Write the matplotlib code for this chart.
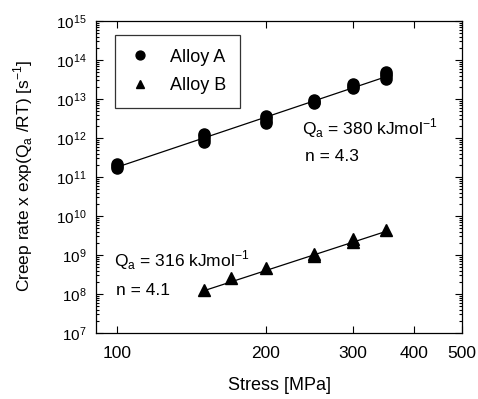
import numpy as np
import matplotlib
matplotlib.use('Agg')
import matplotlib.pyplot as plt
from matplotlib.ticker import FixedLocator, NullLocator, LogLocator, FixedFormatter

plt.rcParams['font.family'] = ['Liberation Sans', 'DejaVu Sans']

# Alloy A data (stress in MPa, normalised creep rate in 1/s)
stress_a = [100, 100, 100,
            150, 150, 150, 150,
            200, 200, 200, 200,
            250, 250, 250,
            300, 300, 300,
            350, 350, 350, 350]
rate_a = [1.7e11, 1.95e11, 2.2e11,
          8.0e11, 9.5e11, 1.1e12, 1.3e12,
          2.4e12, 2.8e12, 3.2e12, 3.6e12,
          7.8e12, 8.6e12, 9.5e12,
          1.9e13, 2.1e13, 2.4e13,
          3.2e13, 3.8e13, 4.4e13, 5.0e13]

# Alloy B data
stress_b = [150, 170, 200, 250, 250, 300, 300, 350]
rate_b = [1.27e8, 2.6e8, 4.6e8, 0.95e9, 1.05e9, 2.1e9, 2.6e9, 4.3e9]

# fitted power-law lines (end points)
fit_a_x = [100, 350]
fit_a_y = [1.8e11, 3.7e13]
fit_b_x = [150, 350]
fit_b_y = [1.22e8, 4.0e9]

xticks = [100, 200, 300, 400, 500]
xticklabels = ['100', '200', '300', '400', '500']

fig = plt.figure(figsize=(4.78, 3.99), dpi=100)
ax = fig.add_axes([96/478, 1 - 333/399, 366/478, 312/399])

ax.set_xscale('log')
ax.set_yscale('log')

ax.plot(fit_a_x, fit_a_y, color='black', lw=0.9)
ax.plot(fit_b_x, fit_b_y, color='black', lw=0.9)
ax.plot(stress_a, rate_a, 'o', color='black', ms=8, ls='none', label='Alloy A')
ax.plot(stress_b, rate_b, '^', color='black', ms=8, ls='none', label='Alloy B')

ax.set_xlim(90.5, 500)
ax.set_ylim(1e7, 1e15)

ax.xaxis.set_major_locator(FixedLocator(xticks))
ax.xaxis.set_major_formatter(FixedFormatter(xticklabels))
ax.xaxis.set_minor_locator(NullLocator())
ax.yaxis.set_major_locator(LogLocator(base=10, numticks=20))
ax.yaxis.set_minor_locator(LogLocator(base=10, subs=np.arange(2, 10), numticks=20))

ax.tick_params(which='both', direction='in', top=True, right=True, width=0.8)
ax.tick_params(which='major', length=5)
ax.tick_params(which='minor', length=2.5)
ax.tick_params(axis='x', labelsize=12.5, pad=9)
ax.tick_params(axis='y', labelsize=11, pad=7)
for s in ax.spines.values():
    s.set_linewidth(0.9)

leg = ax.legend(loc='upper left', bbox_to_anchor=(19/366, 1 - 14/312), borderaxespad=0,
                frameon=True, fancybox=False, edgecolor='black', fontsize=13,
                markerscale=0.8, handletextpad=1.0, borderpad=0.75, labelspacing=0.65,
                handlelength=1.3)
leg.get_frame().set_linewidth(0.9)

ax.text(237, 1.8e12, r'Q$_\mathregular{a}$ = 380 kJmol$^\mathregular{-1}$', fontsize=12.5, va='center')
ax.text(240, 3.3e11, 'n = 4.3', fontsize=12.5, va='center')
ax.text(98.5, 7.4e8, r'Q$_\mathregular{a}$ = 316 kJmol$^\mathregular{-1}$', fontsize=12.5, va='center')
ax.text(99.4, 1.2e8, 'n = 4.1', fontsize=12.5, va='center')

fig.text(280/478, 1 - 385/399, 'Stress [MPa]', ha='center', va='center', fontsize=13)
fig.text(23/478, 1 - 176/399, r'Creep rate x exp(Q$_\mathregular{a}$ /RT) [s$^\mathregular{-1}$]',
         ha='center', va='center', rotation=90, fontsize=12.5)

fig.savefig('out.png', dpi=100)
